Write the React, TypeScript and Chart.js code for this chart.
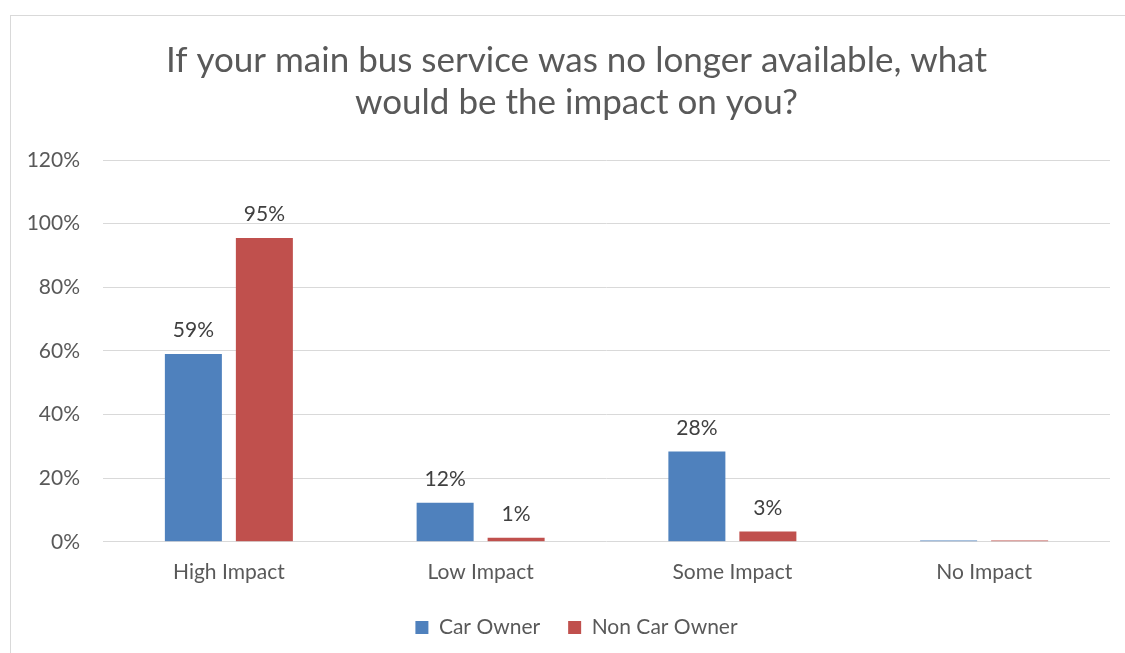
import { useEffect, useRef } from 'react';
import { Chart, registerables } from 'chart.js';

Chart.register(...registerables);

const titleLines = ['If your main bus service was no longer available, what', 'would be the impact on you?'];
const categories = ['High Impact', 'Low Impact', 'Some Impact', 'No Impact'];
const seriesNames = ['Car Owner', 'Non Car Owner'];
const carOwner = [59, 12.3, 28.4, 0.4];
const nonCarOwner = [95.5, 1.3, 3.2, 0.4];
const carOwnerLabels = ['59%', '12%', '28%', ''];
const nonCarOwnerLabels = ['95%', '1%', '3%', ''];
const yMin = 0;
const yMax = 120;
const yStep = 20;

const FONT = 'Lato';
const labelSets = [carOwnerLabels, nonCarOwnerLabels];

const dataLabelPlugin = {
  id: 'dataLabels',
  afterDatasetsDraw(chart: any) {
    const ctx = chart.ctx;
    ctx.save();
    ctx.font = `21px ${FONT}`;
    ctx.fillStyle = '#404040';
    ctx.textAlign = 'center';
    ctx.textBaseline = 'bottom';
    chart.data.datasets.forEach((_ds: any, di: number) => {
      const meta = chart.getDatasetMeta(di);
      meta.data.forEach((el: any, i: number) => {
        const txt = labelSets[di][i];
        if (txt) ctx.fillText(txt, el.x, el.y - 13);
      });
    });
    ctx.restore();
  },
};

export default function App() {
  const ref = useRef<HTMLCanvasElement | null>(null);
  useEffect(() => {
    if (!ref.current) return;
    const chart = new Chart(ref.current, {
      type: 'bar',
      data: {
        labels: categories,
        datasets: [
          { label: seriesNames[0], data: carOwner, backgroundColor: '#4f81bd', categoryPercentage: 0.564, barPercentage: 0.803 },
          { label: seriesNames[1], data: nonCarOwner, backgroundColor: '#c0504d', categoryPercentage: 0.564, barPercentage: 0.803 },
        ],
      },
      options: {
        responsive: false,
        animation: false,
        layout: { padding: { left: 28, right: 0, top: 15, bottom: 5 } },
        scales: {
          x: {
            grid: { display: false, drawTicks: false },
            border: { display: false },
            afterFit: (axis: any) => { axis.height = axis.height - 14; },
            ticks: { color: '#595959', font: { family: FONT, size: 21 }, padding: 18 },
          },
          y: {
            min: yMin,
            max: yMax,
            grid: { color: '#d9d9d9', drawTicks: false, lineWidth: 1 },
            border: { display: false },
            afterFit: (axis: any) => { axis.width = 75; },
            ticks: {
              stepSize: yStep,
              color: '#595959',
              font: { family: FONT, size: 21 },
              padding: 23,
              callback: (v: any) => `${v}%`,
            },
          },
          yRightSpace: {
            position: 'right',
            display: true,
            grid: { display: false, drawTicks: false },
            border: { display: false },
            ticks: { display: false },
            afterFit: (axis: any) => { axis.width = 15; },
          },
        },
        plugins: {
          title: {
            display: true,
            text: titleLines,
            color: '#595959',
            font: { family: FONT, size: 35, weight: 'normal' },
            lineHeight: 1.23,
            padding: { top: 25, bottom: 36 },
          },
          legend: {
            position: 'bottom',
            labels: {
              color: '#595959',
              font: { family: FONT, size: 21 },
              boxWidth: 13,
              boxHeight: 13,
              padding: 28,
            },
          },
          tooltip: { enabled: false },
        },
      },
      plugins: [dataLabelPlugin],
    });
    return () => chart.destroy();
  }, []);
  return (
    <div style={{ position: 'fixed', left: 0, top: 0, width: 1125, height: 653, overflow: 'hidden', background: '#fff' }}>
      <div style={{ position: 'absolute', left: 10, top: 15, width: 1200, height: 800, border: '1px solid #d9d9d9' }} />
      <canvas ref={ref} width={1125} height={653} style={{ position: 'absolute', left: 0, top: 0, width: 1125, height: 653 }} />
    </div>
  );
}
